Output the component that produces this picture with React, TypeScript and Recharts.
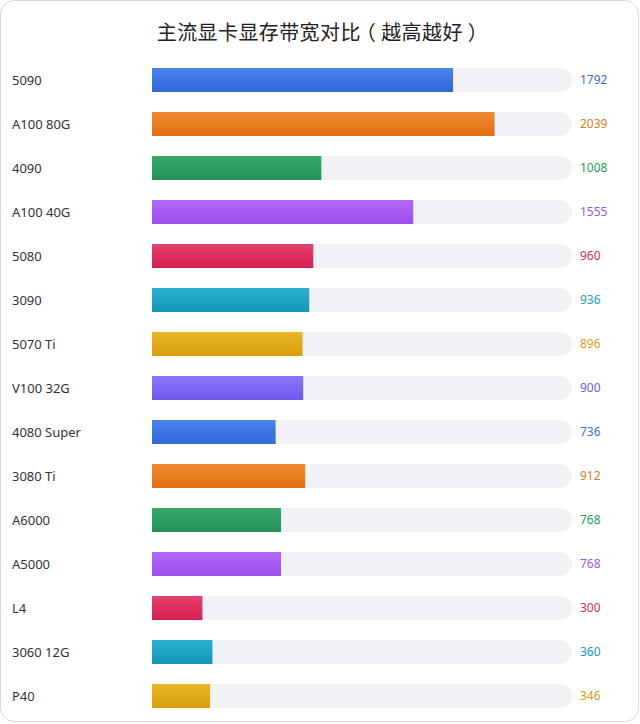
import React from 'react';
import { Bar, BarChart, Cell, XAxis, YAxis } from 'recharts';

const cards = [
  '5090',
  'A100 80G',
  '4090',
  'A100 40G',
  '5080',
  '3090',
  '5070 Ti',
  'V100 32G',
  '4080 Super',
  '3080 Ti',
  'A6000',
  'A5000',
  'L4',
  '3060 12G',
  'P40',
];

const bandwidth = [1792, 2039, 1008, 1555, 960, 936, 896, 900, 736, 912, 768, 768, 300, 360, 346];

// [top, bottom, label]
const palette = [
  ['#4a84ee', '#2f68d8', '#3d6fc8'],
  ['#ee8b30', '#e06e12', '#df7a22'],
  ['#37aa6a', '#229258', '#25985c'],
  ['#b268f9', '#9c4ee8', '#9a58e0'],
  ['#e6416f', '#d41e54', '#cf2c5c'],
  ['#2bb0cf', '#1596b6', '#1c9cb6'],
  ['#e8b72a', '#d99d08', '#d6a214'],
  ['#8a75f9', '#6e58eb', '#6e5ce0'],
];

const data = cards.map((name, i) => ({ name, value: bandwidth[i] }));

const FONT = '"Noto Sans", "Noto Sans CJK SC", sans-serif';

const NameTick = ({ y, payload }: { y?: number; payload?: { value: string } }) => (
  <text x={12} y={y} dy={4.5} fontSize={13} fill="#333" fontFamily={FONT}>
    {payload?.value}
  </text>
);

const ValueTick = ({ x, y, payload }: { x?: number; y?: number; payload?: { value: string; index: number } }) => {
  const i = payload ? payload.index : 0;
  return (
    <text x={x} y={y} dy={4} fontSize={12} fill={palette[i % palette.length][2]} fontFamily={FONT}>
      {bandwidth[i]}
    </text>
  );
};

// half-width bracket glyphs with equal space each side, so they sit centred like the reference
const paren = { fontFeatureSettings: '"halt"', margin: '0 5px' };

export default function App() {
  return (
    <div style={{ position: 'absolute', left: 0, top: 0, width: 640, height: 724, background: '#fff' }}>
      <div
        style={{
          position: 'absolute',
          left: 0,
          top: 0,
          width: 637,
          height: 720,
          border: '1px solid #d9d9d9',
          borderRadius: 14,
        }}
      />
      <div
        style={{
          position: 'absolute',
          top: 18,
          left: 0,
          width: 640,
          textAlign: 'center',
          fontSize: 20,
          lineHeight: '28px',
          letterSpacing: 0.4,
          color: '#222',
          fontFamily: '"Noto Sans CJK SC", sans-serif',
        }}
      >
        主流显卡显存带宽对比<span style={paren}>（</span>越高越好<span style={paren}>）</span>
      </div>
      <div style={{ position: 'absolute', left: 0, top: 0 }}>
        <BarChart
          width={640}
          height={724}
          data={data}
          layout="vertical"
          margin={{ top: 58, right: 0, bottom: 6, left: 0 }}
        >
          <defs>
            {palette.map((c, i) => (
              <linearGradient key={i} id={`grad-${i}`} x1="0" y1="0" x2="0" y2="1">
                <stop offset="0%" stopColor={c[0]} />
                <stop offset="100%" stopColor={c[1]} />
              </linearGradient>
            ))}
          </defs>
          <XAxis type="number" domain={[0, 2500]} hide />
          <YAxis
            yAxisId="left"
            type="category"
            dataKey="name"
            width={152}
            axisLine={false}
            tickLine={false}
            tick={<NameTick />}
            interval={0}
          />
          <YAxis
            yAxisId="right"
            orientation="right"
            type="category"
            dataKey="name"
            width={68}
            axisLine={false}
            tickLine={false}
            tick={<ValueTick />}
            interval={0}
          />
          <Bar
            yAxisId="left"
            dataKey="value"
            barSize={24}
            background={{ fill: '#f1f2f5', radius: 12 }}
            isAnimationActive={false}
          >
            {data.map((d, i) => (
              <Cell key={d.name} fill={`url(#grad-${i % palette.length})`} />
            ))}
          </Bar>
        </BarChart>
      </div>
    </div>
  );
}
